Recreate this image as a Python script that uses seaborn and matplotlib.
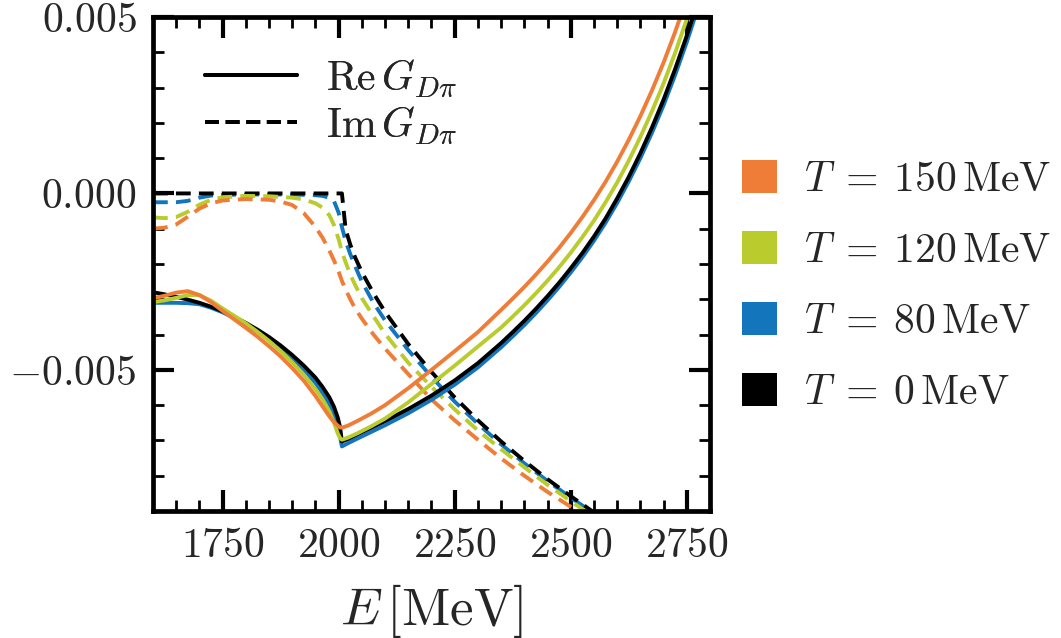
import numpy as np
import matplotlib
matplotlib.use("Agg")
import matplotlib.pyplot as plt
import seaborn as sns
from matplotlib.ticker import MultipleLocator, FuncFormatter
from matplotlib.patches import Patch
from matplotlib.lines import Line2D

# ---------------------------------------------------------------------------
# D-pi loop function G(E) at several temperatures, values in units of 1e-3
# ---------------------------------------------------------------------------
temperatures = ["150", "120", "80", "0"]          # MeV
colors = {"150": "#F07D37", "120": "#BACB2E", "80": "#1376BD", "0": "#000000"}

# energy grid of the real part [MeV]
E_re = [1600, 1625, 1650, 1675, 1700, 1725, 1750, 1775, 1800, 1825, 1850, 1875,
        1900, 1925, 1950, 1965, 1980, 1990, 1998, 2003, 2007, 2020, 2040, 2070,
        2100, 2150, 2200, 2250, 2300,
        2350, 2375, 2400, 2425, 2450, 2475, 2500, 2525, 2550, 2575, 2600, 2625,
        2650, 2675, 2700, 2725, 2750, 2775, 2800]

re_T0 = [-2.80, -2.86, -2.93, -3.01, -3.10, -3.21, -3.34, -3.50, -3.67, -3.86, -4.07, -4.31,
         -4.58, -4.88, -5.22, -5.48, -5.78, -6.05, -6.35, -6.62, -7.03, -6.96, -6.83, -6.64,
         -6.45, -6.11, -5.73, -5.30, -4.81,
         -4.24, -3.93, -3.61, -3.27, -2.91, -2.53, -2.12, -1.69, -1.22, -0.71, -0.14, 0.47,
         1.14, 1.87, 2.66, 3.53, 4.47, 5.49, 6.59]

re_T80 = [-3.10, -3.10, -3.10, -3.11, -3.14, -3.24, -3.37, -3.53, -3.71, -3.91, -4.13, -4.38,
          -4.67, -4.99, -5.37, -5.65, -5.98, -6.28, -6.62, -6.90, -7.17, -7.08, -6.95, -6.76,
          -6.57, -6.23, -5.85, -5.42, -4.93,
          -4.36, -4.05, -3.73, -3.39, -3.03, -2.65, -2.24, -1.81, -1.34, -0.83, -0.27, 0.34,
          1.00, 1.72, 2.50, 3.36, 4.29, 5.30, 6.39]

re_T120 = [-3.08, -3.03, -2.96, -2.88, -2.88, -3.04, -3.26, -3.47, -3.68, -3.92, -4.18, -4.47,
           -4.79, -5.14, -5.55, -5.83, -6.18, -6.50, -6.80, -6.93, -6.98, -6.92, -6.80, -6.60,
           -6.38, -5.92, -5.40, -4.88, -4.34,
           -3.80, -3.49, -3.17, -2.83, -2.47, -2.09, -1.68, -1.24, -0.77, -0.25, 0.31, 0.93,
           1.60, 2.33, 3.12, 3.99, 4.94, 5.97, 7.08]

re_T150 = [-2.97, -2.90, -2.81, -2.77, -2.88, -3.08, -3.33, -3.57, -3.81, -4.06, -4.33, -4.62,
           -4.95, -5.31, -5.74, -6.03, -6.32, -6.48, -6.58, -6.63, -6.64, -6.58, -6.45, -6.24,
           -6.00, -5.52, -5.00, -4.47, -3.93,
           -3.30, -2.98, -2.65, -2.30, -1.93, -1.54, -1.12, -0.67, -0.19, 0.33, 0.90, 1.52,
           2.19, 2.92, 3.71, 4.58, 5.53, 6.57, 7.70]

# energy grid of the imaginary part [MeV]
E_im = [1600, 1625, 1650, 1675, 1700, 1725, 1750, 1800, 1850, 1875, 1900, 1925,
        1950, 1965, 1980, 1990, 2000, 2007, 2015, 2025, 2035, 2050, 2075, 2100,
        2150, 2200, 2250, 2300, 2350, 2400, 2450, 2500, 2550]

im_T0 = [0.00, 0.00, 0.00, 0.00, 0.00, 0.00, 0.00, 0.00, 0.00, 0.00, 0.00, 0.00,
         0.00, 0.00, 0.00, 0.00, 0.00, 0.00, -1.02, -1.45, -1.80, -2.23, -2.83, -3.36,
         -4.27, -5.06, -5.78, -6.43, -7.03, -7.58, -8.10, -8.58, -9.04]

im_T80 = [-0.25, -0.25, -0.25, -0.21, -0.12, -0.06, -0.04, -0.03, -0.03, -0.03, -0.03, -0.04,
          -0.05, -0.07, -0.12, -0.22, -0.55, -0.95, -1.35, -1.72, -2.05, -2.50, -3.10, -3.60,
          -4.44, -5.20, -5.90, -6.53, -7.11, -7.65, -8.15, -8.62, -9.07]

im_T120 = [-0.68, -0.70, -0.67, -0.52, -0.32, -0.18, -0.11, -0.07, -0.08, -0.10, -0.12, -0.17,
           -0.28, -0.40, -0.62, -0.90, -1.30, -1.65, -1.95, -2.30, -2.58, -2.97, -3.48, -3.98,
           -4.80, -5.48, -6.12, -6.72, -7.25, -7.76, -8.26, -8.72, -9.17]

im_T150 = [-1.00, -0.97, -0.88, -0.66, -0.43, -0.28, -0.20, -0.16, -0.18, -0.23, -0.33, -0.56,
           -0.95, -1.25, -1.62, -1.90, -2.22, -2.48, -2.72, -3.00, -3.25, -3.55, -4.00, -4.40,
           -5.12, -5.84, -6.43, -6.98, -7.51, -8.00, -8.46, -8.88, -9.29]

re_parts = {"0": re_T0, "80": re_T80, "120": re_T120, "150": re_T150}
im_parts = {"0": im_T0, "80": im_T80, "120": im_T120, "150": im_T150}
draw_order = ["80", "0", "120", "150"]

# ---------------------------------------------------------------------------
# style
# ---------------------------------------------------------------------------
sns.set_style("ticks")
plt.rcParams["font.family"] = "serif"
plt.rcParams["font.serif"] = ["cmr10", "DejaVu Serif"]
plt.rcParams["mathtext.fontset"] = "cm"
plt.rcParams["axes.formatter.use_mathtext"] = True

FS = 30
fig = plt.figure(figsize=(10.61, 6.38), dpi=100)
ax = fig.add_axes([153 / 1061, 1 - 511 / 638, (710 - 153) / 1061, (511 - 17) / 638])

LW = 2.8
dash = (0, (3.8, 2.1))
for T in draw_order:
    sns.lineplot(x=E_im, y=np.asarray(im_parts[T]) * 1e-3, ax=ax, color=colors[T],
                 linewidth=LW, linestyle=dash, errorbar=None, legend=False)
for T in draw_order:
    sns.lineplot(x=E_re, y=np.asarray(re_parts[T]) * 1e-3, ax=ax, color=colors[T],
                 linewidth=LW, errorbar=None, legend=False)

ax.set_xlim(1600, 2800)
ax.set_ylim(-0.009, 0.005)

ax.xaxis.set_major_locator(MultipleLocator(250))
ax.xaxis.set_minor_locator(MultipleLocator(50))
ax.yaxis.set_major_locator(MultipleLocator(0.005))
ax.yaxis.set_minor_locator(MultipleLocator(0.001))
ax.xaxis.set_major_formatter(FuncFormatter(lambda v, p: f"${v:.0f}$"))
ax.yaxis.set_major_formatter(FuncFormatter(lambda v, p: f"${v + 0.0:.3f}$"))

ax.tick_params(which="both", direction="in", top=True, right=True,
               labelsize=FS, pad=12, color="black")
ax.tick_params(which="major", length=15, width=3)
ax.tick_params(which="minor", length=8, width=2)
for s in ax.spines.values():
    s.set_linewidth(3.4)
    s.set_color("black")

ax.set_xlabel(r"$E\,[\mathrm{MeV}]$", fontsize=38, labelpad=12)
ax.set_ylabel("")

# line-style key inside the axes
style_handles = [Line2D([], [], color="black", lw=2.8),
                 Line2D([], [], color="black", lw=2.8, linestyle=(0, (3.6, 1.7)))]
leg1 = ax.legend(style_handles, [r"$\mathrm{Re}\,G_{D\pi}$", r"$\mathrm{Im}\,G_{D\pi}$"],
                 loc="upper left", bbox_to_anchor=(0.0934, 0.918), frameon=False,
                 fontsize=FS, borderpad=0, borderaxespad=0, handlelength=2.2,
                 handletextpad=0.7, labelspacing=0.14)
ax.add_artist(leg1)

# temperature key to the right of the axes
temp_handles = [Patch(facecolor=colors[T], edgecolor="none") for T in temperatures]
temp_labels = [rf"$T\;=\:{T}\,\mathrm{{MeV}}$" for T in temperatures]
fig.legend(temp_handles, temp_labels, loc="center left",
           bbox_to_anchor=(742 / 1061, 1 - 286 / 638), frameon=False, fontsize=FS,
           borderpad=0, borderaxespad=0, handlelength=0.85, handleheight=0.85,
           handletextpad=0.65, labelspacing=0.77)

fig.savefig("out.png", dpi=100)
